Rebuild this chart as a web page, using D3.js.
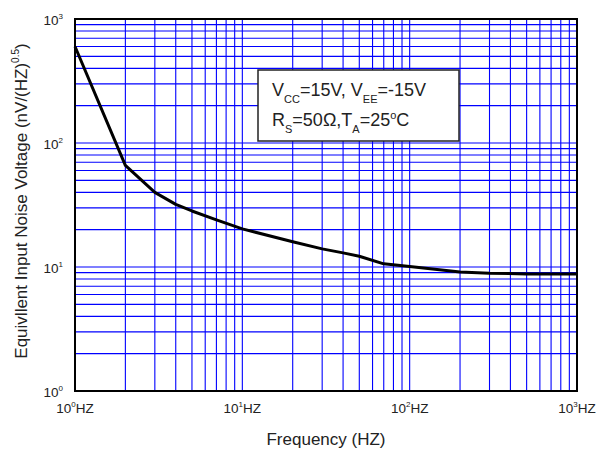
<!DOCTYPE html>
<html>
<head>
<meta charset="utf-8">
<script src="https://cdn.jsdelivr.net/npm/d3@7"></script>
<style>
  body { margin: 0; background: #fff; }
  svg { font-family: "Liberation Sans", Arial, sans-serif; }
</style>
</head>
<body>
<div id="chart"></div>
<script>
// curve (Hz, nV/sqrt(Hz))
const freq = [1, 2, 3, 4, 5, 7, 10, 20, 30, 40, 50, 70, 100, 200, 300, 500, 1000];
const noise = [600, 66, 40, 32, 28.3, 24, 20.3, 16, 14, 13, 12.2, 10.6, 10.1, 9.1, 8.9, 8.8, 8.8];
const xDecades = [0, 1, 2, 3];
const yDecades = [0, 1, 2, 3];

const width = 601;
const height = 450;
const margin = {top: 19, right: 24, bottom: 59, left: 75};

const svg = d3.select("#chart").append("svg")
    .attr("width", width)
    .attr("height", height);

const x = d3.scaleLog()
    .domain([1, 1000])
    .range([margin.left, width - margin.right]);

const y = d3.scaleLog()
    .domain([1, 1000])
    .range([height - margin.bottom, margin.top]);

// grid lines at 1..9 of every decade
const gridVals = [];
for (let d = 0; d < 3; d++) {
    for (let m = 1; m < 10; m++) gridVals.push(m * Math.pow(10, d));
}

svg.append("g")
    .selectAll("line")
    .data(gridVals.filter(v => v > 1))
    .join("line")
    .attr("x1", d => x(d)).attr("x2", d => x(d))
    .attr("y1", margin.top).attr("y2", height - margin.bottom)
    .attr("stroke", "#0000ff")
    .attr("stroke-width", 1.1);

svg.append("g")
    .selectAll("line")
    .data(gridVals.filter(v => v > 1))
    .join("line")
    .attr("y1", d => y(d)).attr("y2", d => y(d))
    .attr("x1", margin.left).attr("x2", width - margin.right)
    .attr("stroke", "#0000ff")
    .attr("stroke-width", 1.1);

// frame
svg.append("rect")
    .attr("x", margin.left)
    .attr("y", margin.top)
    .attr("width", width - margin.left - margin.right)
    .attr("height", height - margin.top - margin.bottom)
    .attr("fill", "none")
    .attr("stroke", "#000")
    .attr("stroke-width", 2);

// y tick labels
const yLab = svg.append("g")
    .selectAll("text")
    .data(yDecades)
    .join("text")
    .attr("x", margin.left - 12)
    .attr("y", d => y(Math.pow(10, d)) + 6)
    .attr("text-anchor", "end")
    .attr("font-size", 13.5)
    .attr("fill", "#222");
yLab.append("tspan").text("10");
yLab.append("tspan").attr("font-size", 8).attr("dy", -6).text(d => d);

// x tick labels
const xLab = svg.append("g")
    .selectAll("text")
    .data(xDecades)
    .join("text")
    .attr("x", d => x(Math.pow(10, d)))
    .attr("y", 413)
    .attr("text-anchor", "middle")
    .attr("font-size", 13.5)
    .attr("fill", "#222");
xLab.append("tspan").text("10");
xLab.append("tspan").attr("font-size", 8).attr("dy", -6).text(d => d);
xLab.append("tspan").attr("dy", 6).text("HZ");

// axis titles
svg.append("text")
    .attr("x", 326)
    .attr("y", 445)
    .attr("text-anchor", "middle")
    .attr("font-size", 17)
    .attr("fill", "#222")
    .text("Frequency (HZ)");

const yt = svg.append("text")
    .attr("transform", `translate(27,201) rotate(-90)`)
    .attr("text-anchor", "middle")
    .attr("font-size", 17)
    .attr("fill", "#222");
yt.append("tspan").text("Equivllent Input Noise Voltage (nV/(HZ)");
yt.append("tspan").attr("font-size", 10).attr("dy", -8).text("0.5");
yt.append("tspan").attr("dy", 8).text(")");

// curve
const line = d3.line()
    .x((d, i) => x(freq[i]))
    .y(d => y(d));

svg.append("path")
    .datum(noise)
    .attr("d", line)
    .attr("fill", "none")
    .attr("stroke", "#000")
    .attr("stroke-width", 3)
    .attr("stroke-linejoin", "round");

// condition box
const box = svg.append("g");
box.append("rect")
    .attr("x", 258).attr("y", 70)
    .attr("width", 201).attr("height", 71)
    .attr("fill", "#fff")
    .attr("stroke", "#222")
    .attr("stroke-width", 1.5);

const l1 = box.append("text")
    .attr("x", 272).attr("y", 96)
    .attr("font-size", 18)
    .attr("fill", "#222");
l1.append("tspan").text("V");
l1.append("tspan").attr("font-size", 11).attr("dy", 7).text("CC");
l1.append("tspan").attr("dy", -7).text("=15V, V");
l1.append("tspan").attr("font-size", 11).attr("dy", 7).text("EE");
l1.append("tspan").attr("dy", -7).text("=-15V");

const l2 = box.append("text")
    .attr("x", 272).attr("y", 126)
    .attr("font-size", 18)
    .attr("fill", "#222");
l2.append("tspan").text("R");
l2.append("tspan").attr("font-size", 11).attr("dy", 7).text("S");
l2.append("tspan").attr("dy", -7).text("=50Ω,T");
l2.append("tspan").attr("font-size", 11).attr("dy", 7).text("A");
l2.append("tspan").attr("dy", -7).text("=25");
l2.append("tspan").attr("font-size", 11).attr("dy", -7).text("o");
l2.append("tspan").attr("dy", 7).text("C");
</script>
</body>
</html>
